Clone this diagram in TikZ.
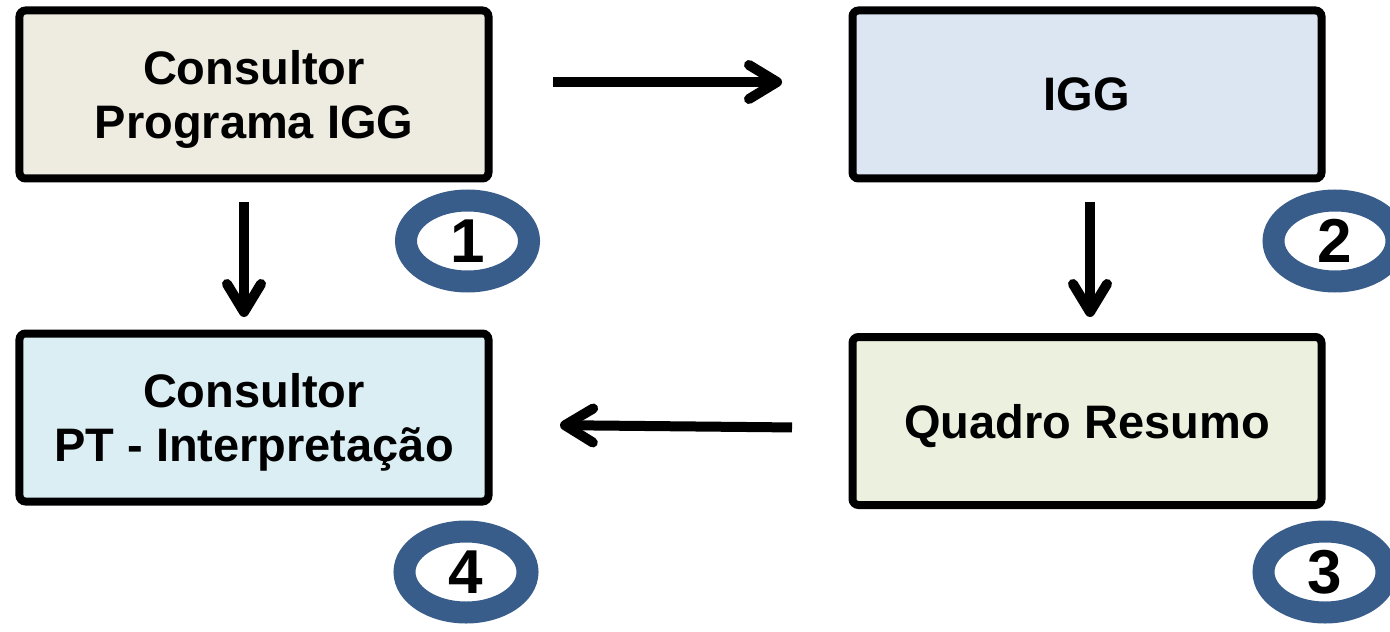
\documentclass[tikz,border=0pt]{standalone}
\usepackage{fontspec}
\setmainfont{Liberation Sans}
\usetikzlibrary{positioning, arrows.meta, shapes.geometric}
\definecolor{tanc}{HTML}{EEECE1}
\definecolor{bluec}{HTML}{DCE6F2}
\definecolor{olivec}{HTML}{EBF1DE}
\definecolor{aquac}{HTML}{DBEEF4}
\definecolor{ringc}{HTML}{385D8A}

\begin{document}
\begin{tikzpicture}[
      font=\fontsize{23.5}{27}\selectfont\bfseries,
      box/.style={draw=black, line width=4pt, rounded corners=3pt, align=center,
                  minimum width=234.5pt, minimum height=84pt, inner sep=0pt,
                  text depth=0pt},
      num/.style={ellipse, draw=ringc, fill=white, line width=11pt, inner sep=0pt,
                  minimum width=61.5pt, minimum height=40.5pt,
                  font=\fontsize{31}{31}\selectfont\bfseries},
      arr/.style={-{Straight Barb[length=14pt, width=17pt, round]}, line width=5pt},
      node distance=73.5pt and 178pt]
    \useasboundingbox (-127pt,47.25pt) rectangle (568pt,-268.25pt);
    \node[box, fill=tanc] (cons) {Consultor\\Programa IGG};
    \node[box, fill=bluec,  right=of cons] (igg) {IGG};
    \node[box, fill=olivec, below=75.25pt of igg] (quadro) {Quadro Resumo};
    \node[box, fill=aquac,  below=of cons] (interp) {Consultor\\PT - Interpretação};
    \node[num] (n1) at ([xshift=-12.5pt, yshift=-29.25pt]cons.south east)   {1};
    \node[num] (n2) at ([xshift=4.75pt, yshift=-29.25pt]igg.south east)     {2};
    \node[num] (n3) at ([xshift=-0.25pt, yshift=-31.5pt]quadro.south east)  {3};
    \node[num] (n4) at ([xshift=-13.25pt, yshift=-33.25pt]interp.south east) {4};
    \draw[arr, shorten <=30.25pt, shorten >=33.25pt]
      ([yshift=6.25pt]cons.east) -- ([yshift=6.25pt]igg.west);
    \draw[arr, shorten <=9.75pt, shorten >=6.25pt]
      ([xshift=-5pt]cons.south) -- ([xshift=-5pt]interp.north);
    \draw[arr, shorten <=9.75pt, shorten >=8pt]
      ([xshift=1.5pt]igg.south) -- ([xshift=1.5pt]quadro.north);
    \draw[arr, shorten <=28.25pt, shorten >=33.75pt]
      ([yshift=-3.5pt]quadro.west) -- ([yshift=-3.5pt]interp.east);
  \end{tikzpicture}
\end{document}
